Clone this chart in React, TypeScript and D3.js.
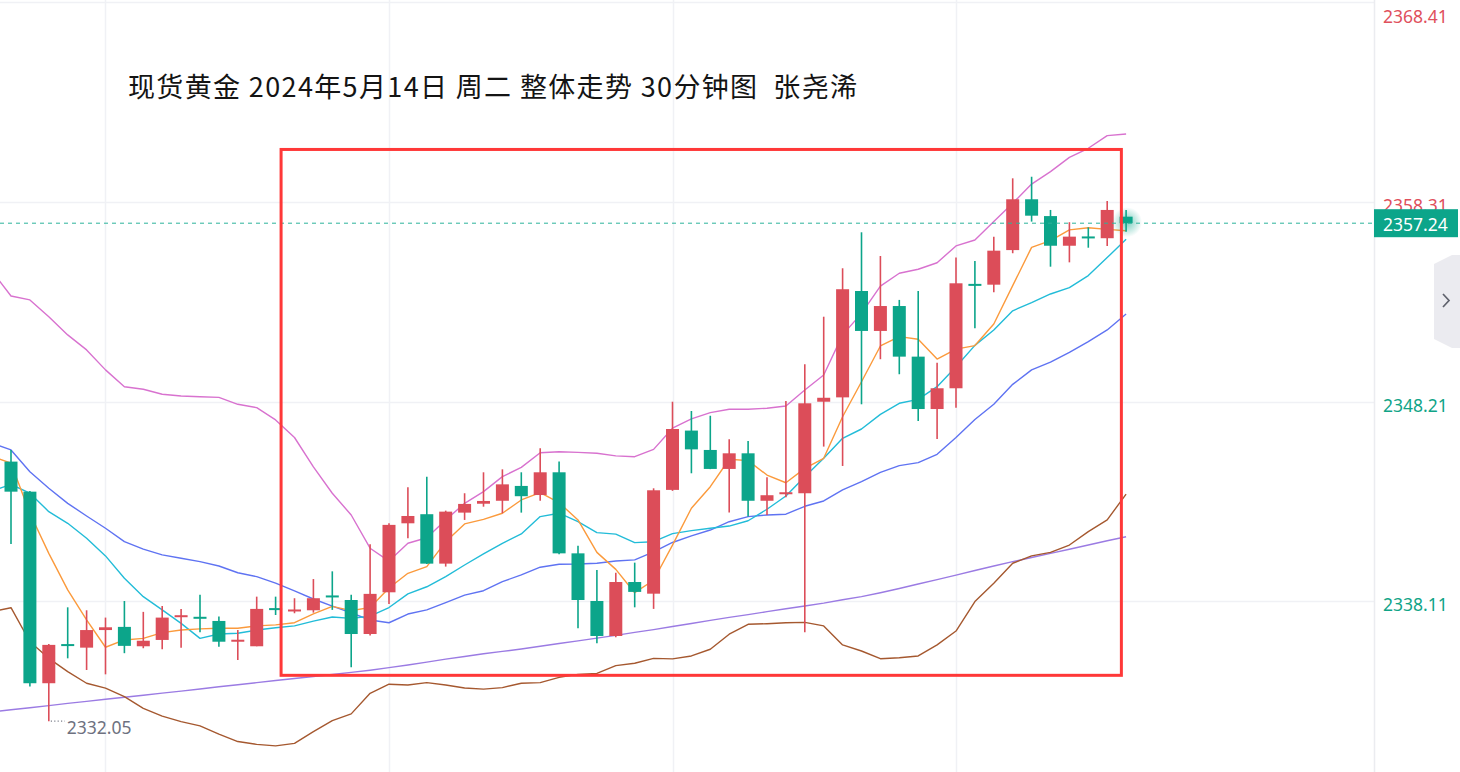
import React, { useRef, useEffect } from "react";
import * as d3 from "d3";

// chart text
const chartTitle = "现货黄金 2024年5月14日 周二 整体走势 30分钟图  张尧浠";
const priceTicks = [2338.11, 2348.21, 2358.31, 2368.41];
const timeGridIdx = [5, 20, 35, 50];
const lastPrice = 2357.24;
const lowIdx = 2;
const lowValue = 2332.05;

// highlighted zone (index range and price range)
const boxIdx = [14.29, 58.75];
const boxPrice = [2334.37, 2360.97];

// 30 minute candles
const openP = [2345.18,2343.66,2333.97,2335.90,2335.77,2336.66,2336.82,2335.84,2336.16,2337.30,
  2337.28,2337.12,2336.02,2335.84,2337.72,2337.60,2337.66,2338.36,2338.18,2336.46,
  2338.57,2342.06,2342.52,2340.02,2342.60,2343.05,2343.20,2343.95,2343.49,2344.64,
  2340.54,2338.13,2336.36,2339.09,2338.50,2343.75,2346.75,2345.77,2344.81,2345.60,
  2343.20,2343.49,2343.58,2348.21,2348.43,2353.81,2351.79,2353.05,2350.49,2347.84,
  2348.89,2354.12,2354.13,2355.88,2358.45,2357.60,2356.10,2356.52,2356.48,2357.57];
const highP = [2345.77,2343.70,2335.95,2337.81,2337.66,2337.29,2338.13,2337.58,2337.88,2337.73,
  2338.44,2337.34,2336.66,2338.35,2338.35,2338.27,2339.24,2339.63,2338.44,2341.00,
  2342.06,2343.88,2344.42,2342.70,2343.58,2344.64,2344.79,2344.64,2345.85,2345.18,
  2340.93,2339.70,2339.56,2340.07,2343.83,2348.21,2347.74,2347.50,2346.31,2346.22,
  2344.39,2348.25,2350.10,2352.51,2354.96,2356.78,2355.58,2353.36,2353.81,2350.18,
  2355.50,2355.33,2356.56,2359.51,2359.59,2357.91,2357.29,2357.03,2358.36,2357.91];
const lowP = [2341.01,2333.80,2332.05,2335.23,2334.64,2334.42,2335.49,2335.74,2335.69,2335.77,
  2336.55,2335.82,2335.15,2335.84,2337.42,2337.51,2337.54,2337.68,2334.78,2336.38,
  2337.98,2341.30,2340.00,2339.87,2342.23,2342.90,2342.57,2342.60,2343.20,2340.50,
  2336.75,2335.99,2336.30,2337.81,2337.73,2343.70,2344.59,2344.80,2342.60,2342.40,
  2342.48,2343.38,2336.55,2345.94,2344.96,2348.08,2350.36,2349.60,2347.24,2346.33,
  2347.91,2351.92,2353.75,2355.72,2357.32,2355.04,2355.26,2356.00,2356.09,2356.81];
const closeP = [2343.66,2333.97,2335.91,2335.80,2336.66,2336.80,2335.86,2336.12,2337.29,2337.36,
  2337.20,2336.07,2336.12,2337.73,2337.65,2337.65,2338.27,2338.30,2336.46,2338.49,
  2341.98,2342.43,2340.02,2342.65,2343.04,2343.19,2344.03,2343.43,2344.64,2340.54,
  2338.18,2336.36,2339.09,2338.59,2343.73,2346.83,2345.80,2344.81,2345.60,2343.20,
  2343.48,2343.58,2348.13,2348.41,2353.90,2351.79,2353.05,2350.49,2347.84,2348.89,
  2354.20,2354.05,2355.85,2358.45,2357.62,2356.10,2356.56,2356.45,2357.91,2357.24];

// indicator lines, first value sits one bar before the first candle
const ma5 = [2345.44,2345.10,2342.57,2340.54,2338.69,2337.17,2335.79,2336.16,2336.24,2336.53,2336.66,
  2336.72,2336.75,2336.75,2336.87,2336.92,2337.03,2337.48,2337.86,2337.64,2337.80,
  2338.79,2339.53,2339.87,2341.13,2342.03,2342.26,2342.57,2343.24,2343.61,2343.10,
  2342.23,2340.59,2339.73,2338.55,2339.18,2340.96,2342.82,2343.91,2345.30,2345.23,
  2344.50,2344.11,2344.84,2345.35,2347.45,2349.22,2351.03,2351.50,2351.37,2350.37,
  2350.87,2351.05,2352.14,2354.08,2356.02,2356.36,2356.90,2357.01,2356.93,2356.86];
const ma10 = [2343.69,2344.03,2343.58,2342.65,2342.06,2341.30,2340.41,2339.28,2338.35,2337.68,2337.00,
  2336.24,2336.46,2336.50,2336.66,2336.78,2336.87,2337.11,2337.32,2337.25,2337.36,
  2337.80,2338.49,2338.85,2339.36,2339.95,2340.51,2341.05,2341.52,2342.40,2342.57,
  2342.14,2341.59,2341.51,2341.08,2341.13,2341.54,2341.69,2341.81,2341.92,2342.19,
  2342.77,2343.44,2344.42,2345.35,2346.36,2346.83,2347.57,2348.13,2348.33,2348.97,
  2349.98,2351.06,2351.84,2352.81,2353.22,2353.66,2353.98,2354.59,2355.50,2356.43];
const bollMid = [2346.12,2345.77,2344.67,2343.83,2343.07,2342.43,2341.81,2341.13,2340.75,2340.46,2340.29,
  2340.12,2339.90,2339.56,2339.36,2339.03,2338.64,2338.23,2337.87,2337.53,2337.17,
  2337.03,2337.47,2337.68,2338.05,2338.43,2338.65,2339.11,2339.45,2339.84,2339.99,
  2340.00,2340.04,2340.15,2340.21,2340.61,2341.09,2341.42,2341.72,2342.14,2342.40,
  2342.48,2342.52,2342.92,2343.19,2343.75,2344.17,2344.64,2344.98,2345.13,2345.55,
  2346.40,2347.31,2348.08,2349.09,2349.82,2350.21,2350.71,2351.25,2351.84,2352.65];
const bollUp = [2354.80,2353.56,2353.36,2352.51,2351.59,2350.83,2349.82,2348.97,2348.84,2348.59,2348.50,
  2348.46,2348.43,2348.08,2347.91,2347.29,2346.40,2344.91,2343.58,2342.48,2340.80,
  2340.15,2341.05,2341.33,2342.23,2343.07,2343.66,2344.42,2344.89,2345.63,2345.68,
  2345.65,2345.60,2345.47,2345.43,2345.80,2346.87,2347.34,2347.66,2347.83,2347.83,
  2347.88,2347.99,2348.80,2349.56,2351.59,2352.68,2354.06,2354.71,2354.91,2355.24,
  2356.09,2356.39,2357.32,2358.25,2359.22,2359.85,2360.57,2361.03,2361.67,2361.75];
const bollLow = [2337.59,2337.79,2336.07,2335.23,2334.56,2333.97,2333.72,2333.29,2332.70,2332.31,2332.03,
  2331.81,2331.40,2331.02,2330.88,2330.80,2330.93,2331.52,2332.08,2332.42,2333.46,
  2333.92,2333.88,2334.00,2333.88,2333.73,2333.67,2333.75,2333.97,2334.00,2334.27,
  2334.42,2334.47,2334.86,2334.98,2335.23,2335.20,2335.35,2335.69,2336.45,2336.95,
  2336.98,2337.03,2337.05,2336.87,2335.91,2335.60,2335.21,2335.26,2335.35,2335.91,
  2336.61,2338.10,2339.03,2340.04,2340.41,2340.59,2340.96,2341.64,2342.23,2343.54];
const ma60 = [2332.52,2332.63,2332.73,2332.84,2332.95,2333.05,2333.16,2333.26,2333.36,2333.47,2333.57,
  2333.68,2333.79,2333.89,2334.00,2334.11,2334.21,2334.31,2334.41,2334.52,2334.63,
  2334.76,2334.89,2335.04,2335.19,2335.32,2335.46,2335.58,2335.70,2335.84,2335.98,
  2336.11,2336.25,2336.39,2336.54,2336.68,2336.84,2336.99,2337.15,2337.30,2337.44,
  2337.59,2337.74,2337.88,2338.02,2338.19,2338.35,2338.55,2338.76,2338.99,2339.21,
  2339.44,2339.67,2339.90,2340.12,2340.33,2340.54,2340.75,2340.96,2341.18,2341.38];

const lineSeries = [
  { name: "ma60", values: ma60, color: "#9b7be3" },
  { name: "bollLow", values: bollLow, color: "#a5582f" },
  { name: "bollUp", values: bollUp, color: "#d872cf" },
  { name: "bollMid", values: bollMid, color: "#5f73f2" },
  { name: "ma10", values: ma10, color: "#22bcd8" },
  { name: "ma5", values: ma5, color: "#fb9a3c" },
];

const UP = "#dc4d59";
const DOWN = "#0ca58a";

const App = () => {
  const svgRef = useRef(null);
  const width = 1460;
  const height = 772;
  const plotRight = 1374;

  useEffect(() => {
    const svg = d3.select(svgRef.current);
    svg.selectAll("*").remove();

    const x = d3.scaleLinear().domain([0, 59]).range([11, 1126.1]);
    const y = d3.scaleLinear().domain([2329.48, 2368.53]).range([height, 0]);
    const bodyW = 13;

    const defs = svg.append("defs");
    defs.append("clipPath").attr("id", "plotClip")
      .append("rect").attr("x", 0).attr("y", 0).attr("width", plotRight).attr("height", height);
    const grad = defs.append("radialGradient").attr("id", "glow");
    grad.append("stop").attr("offset", "0%").attr("stop-color", DOWN).attr("stop-opacity", 0.55);
    grad.append("stop").attr("offset", "100%").attr("stop-color", DOWN).attr("stop-opacity", 0);

    svg.append("rect").attr("width", width).attr("height", height).attr("fill", "#ffffff");

    // grid
    const grid = svg.append("g").attr("class", "grid");
    grid.selectAll("line.h").data(priceTicks).enter().append("line")
      .attr("x1", 0).attr("x2", plotRight)
      .attr("y1", d => Math.round(y(d)) + 0.5).attr("y2", d => Math.round(y(d)) + 0.5)
      .attr("stroke", "#f0f1f5").attr("stroke-width", 1.5);
    grid.selectAll("line.v").data(timeGridIdx).enter().append("line")
      .attr("x1", d => Math.round(x(d)) + 0.5).attr("x2", d => Math.round(x(d)) + 0.5)
      .attr("y1", 0).attr("y2", height)
      .attr("stroke", "#f0f1f5").attr("stroke-width", 1.5);
    grid.append("line")
      .attr("x1", plotRight + 0.5).attr("x2", plotRight + 0.5).attr("y1", 0).attr("y2", height)
      .attr("stroke", "#ebecf0").attr("stroke-width", 1.5);

    // title
    svg.append("text")
      .attr("x", 128).attr("y", 97)
      .attr("font-family", "'Noto Sans CJK SC', 'Noto Sans', sans-serif")
      .attr("font-size", "27px")
      .attr("fill", "#141414")
      .attr("textLength", 729)
      .attr("lengthAdjust", "spacing")
      .style("white-space", "pre")
      .text(chartTitle);

    const plot = svg.append("g").attr("clip-path", "url(#plotClip)");

    // indicator lines
    const line = d3.line().x((d, i) => x(i - 1)).y(d => y(d));
    lineSeries.forEach(s => {
      plot.append("path")
        .datum(s.values)
        .attr("d", line)
        .attr("fill", "none")
        .attr("stroke", s.color)
        .attr("stroke-width", 1.4)
        .attr("stroke-linejoin", "round");
    });

    // candles
    const candles = openP.map((o, i) => ({ i, o, h: highP[i], l: lowP[i], c: closeP[i] }));
    const cg = plot.append("g").attr("class", "candles");
    candles.forEach(d => {
      const col = d.c >= d.o ? UP : DOWN;
      const cx = x(d.i);
      cg.append("line")
        .attr("x1", cx).attr("x2", cx)
        .attr("y1", y(d.h)).attr("y2", y(d.l))
        .attr("stroke", col).attr("stroke-width", 1.6);
      const top = y(Math.max(d.o, d.c));
      const bh = Math.max(2, y(Math.min(d.o, d.c)) - top);
      cg.append("rect")
        .attr("x", cx - bodyW / 2).attr("y", bh === 2 ? top - 1 : top)
        .attr("width", bodyW).attr("height", bh)
        .attr("fill", col);
    });

    // glow on the live candle
    plot.append("circle")
      .attr("cx", x(59) + 1).attr("cy", y(lastPrice) - 1).attr("r", 15)
      .attr("fill", "url(#glow)");

    // last price dashed line
    svg.append("line")
      .attr("x1", 0).attr("x2", plotRight)
      .attr("y1", y(lastPrice)).attr("y2", y(lastPrice))
      .attr("stroke", "#2bb39a").attr("stroke-width", 1)
      .attr("stroke-dasharray", "4,4");

    // low marker
    svg.append("line")
      .attr("x1", x(lowIdx) + 2).attr("x2", x(lowIdx) + 16)
      .attr("y1", y(lowValue)).attr("y2", y(lowValue))
      .attr("stroke", "#7d808c").attr("stroke-width", 1.2)
      .attr("stroke-dasharray", "1.2,2.2");
    svg.append("text")
      .attr("x", x(lowIdx) + 18).attr("y", y(lowValue) + 12.5)
      .attr("font-family", "'Noto Sans', sans-serif")
      .attr("font-size", "17.5px")
      .attr("fill", "#6e7180")
      .text(lowValue.toFixed(2));

    // highlighted zone
    svg.append("rect")
      .attr("x", x(boxIdx[0])).attr("y", y(boxPrice[1]))
      .attr("width", x(boxIdx[1]) - x(boxIdx[0]))
      .attr("height", y(boxPrice[0]) - y(boxPrice[1]))
      .attr("fill", "none").attr("stroke", "#ff3838").attr("stroke-width", 3);

    // right axis labels
    const axis = svg.append("g").attr("class", "yAxis");
    axis.selectAll("text").data(priceTicks).enter().append("text")
      .attr("x", 1383)
      .attr("y", d => Math.max(y(d) + 3, 16))
      .attr("dominant-baseline", "central")
      .attr("font-family", "'Noto Sans', sans-serif")
      .attr("font-size", "17.5px")
      .attr("fill", d => (d > lastPrice ? "#e0505c" : "#10a487"))
      .text(d => d.toFixed(2));

    // last price badge
    const py = y(lastPrice);
    axis.append("rect")
      .attr("x", plotRight).attr("y", py - 14).attr("width", 84).attr("height", 28)
      .attr("fill", DOWN);
    axis.append("text")
      .attr("x", 1383).attr("y", py + 0.5)
      .attr("dominant-baseline", "central")
      .attr("font-family", "'Noto Sans', sans-serif")
      .attr("font-size", "17.5px")
      .attr("fill", "#ffffff")
      .text(lastPrice.toFixed(2));

    // collapse tab on the right edge
    svg.append("path")
      .attr("d", "M1434,264 L1452,255 L1460,255 L1460,348 L1452,348 L1434,339 Z")
      .attr("fill", "#ebebf0");
    svg.append("path")
      .attr("d", "M1443,294 L1449,300.5 L1443,307")
      .attr("fill", "none").attr("stroke", "#5f626d").attr("stroke-width", 1.7);
  }, []);

  return (
    <svg
      ref={svgRef}
      width={width}
      height={height}
      style={{ position: "absolute", left: 0, top: 0, display: "block" }}
    />
  );
};

export default App;
